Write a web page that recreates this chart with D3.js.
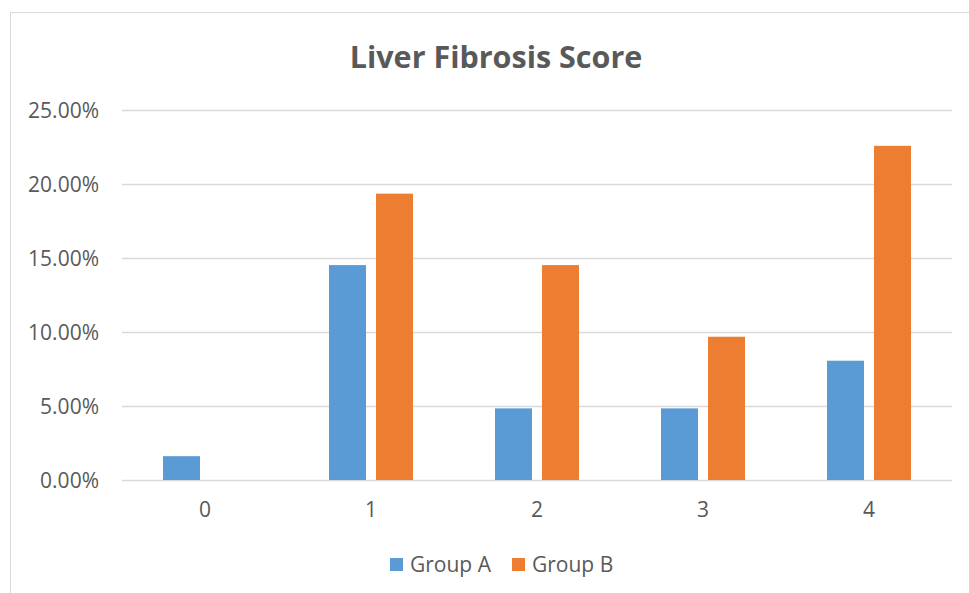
<!DOCTYPE html>
<html>
<head>
<meta charset="utf-8">
<script src="https://cdn.jsdelivr.net/npm/d3@7"></script>
<style>
  body { margin: 0; background: #fff; }
  text { font-family: "Open Sans", "DejaVu Sans", sans-serif; fill: #595959; }
</style>
</head>
<body>
<script>
// data
let categories = ['0', '1', '2', '3', '4'];
let seriesNames = ['Group A', 'Group B'];
let groupA = [0.0161, 0.1452, 0.0484, 0.0484, 0.0806];
let groupB = [0, 0.1935, 0.1452, 0.0968, 0.2258];
let yTicks = [0, 0.05, 0.10, 0.15, 0.20, 0.25];
let colors = ['#5B9BD5', '#ED7D31'];

let width = 969;
let height = 593;

let svg = d3.select('body').append('svg').attr('width', width).attr('height', height);

// chart frame
svg.append('rect')
  .attr('x', 10.5).attr('y', 12.5)
  .attr('width', width + 20).attr('height', height + 20)
  .attr('fill', 'none').attr('stroke', '#D9D9D9');

let plotLeft = 122, plotRight = 952, plotTop = 110, plotBottom = 480;

let y = d3.scaleLinear().domain([0, 0.25]).range([plotBottom, plotTop]);
let x0 = d3.scaleBand().domain(categories).range([plotLeft, plotRight]).paddingInner(0.494).paddingOuter(0.247);
let x1 = d3.scaleBand().domain(seriesNames).range([0, x0.bandwidth()]).paddingInner(0.213);

// gridlines + y labels
let yAxis = d3.axisLeft(y).tickValues(yTicks).tickFormat(d3.format('.2%')).tickSize(-(plotRight - plotLeft)).tickPadding(23);
let ya = svg.append('g').attr('transform', `translate(${plotLeft},0)`).call(yAxis);
ya.select('.domain').remove();
ya.selectAll('line').attr('stroke', '#D9D9D9').attr('stroke-width', 1.3);
ya.selectAll('text').attr('font-size', 21).attr('fill', '#595959').attr('dy', '0.35em');

// x labels
let xAxis = d3.axisBottom(x0).tickSize(0).tickPadding(22);
let xa = svg.append('g').attr('transform', `translate(0,${plotBottom})`).call(xAxis);
xa.select('.domain').remove();
xa.selectAll('text').attr('font-size', 21).attr('fill', '#595959');

// bars
let rows = categories.map((c, i) => ({ cat: c, values: [groupA[i], groupB[i]] }));
let groups = svg.append('g').selectAll('g')
  .data(rows)
  .enter()
    .append('g')
    .attr('transform', d => `translate(${x0(d.cat)},0)`);

groups.selectAll('rect')
  .data(d => d.values.map((v, j) => ({ key: seriesNames[j], v: v, j: j })))
  .enter()
    .append('rect')
    .attr('x', d => x1(d.key))
    .attr('y', d => y(d.v))
    .attr('width', x1.bandwidth())
    .attr('height', d => plotBottom - y(d.v))
    .attr('fill', d => colors[d.j]);

// title
svg.append('text')
  .attr('x', 496).attr('y', 68)
  .attr('text-anchor', 'middle')
  .attr('font-size', 30.5)
  .attr('font-weight', 'bold')
  .text('Liver Fibrosis Score');

// legend
let legendX = [390, 512];
let legend = svg.append('g').selectAll('g')
  .data(seriesNames)
  .enter()
    .append('g')
    .attr('transform', (d, i) => `translate(${legendX[i]},558)`);
legend.append('rect').attr('width', 13).attr('height', 13).attr('fill', (d, i) => colors[i]);
legend.append('text').attr('x', 20).attr('y', 14).attr('font-size', 21).text(d => d);
</script>
</body>
</html>
